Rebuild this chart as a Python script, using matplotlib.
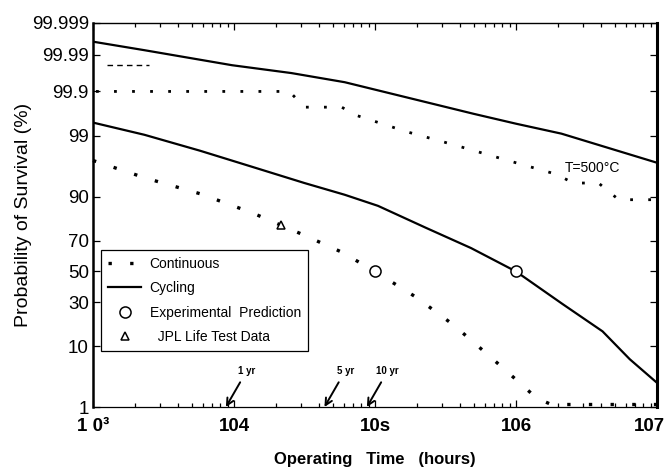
import numpy as np
import matplotlib
matplotlib.use('Agg')
import matplotlib.pyplot as plt
from matplotlib.ticker import FixedLocator, FixedFormatter, LogLocator, NullFormatter, NullLocator
from matplotlib.transforms import ScaledTranslation
from statistics import NormalDist

#-------------------------------------------------------------------------------
# data (time in hours, survival in %)
#-------------------------------------------------------------------------------
# lower solid curve = Cycling
cyc_t = [1000, 2320, 5740, 14600, 31600, 61000, 1.05e5, 2.3e5, 4.8e5, 1.0e6, 2.14e6, 4.11e6, 6.41e6, 1.0e7]
cyc_s = [99.47, 99.05, 98.09, 96.16, 93.55, 90.6, 87.0, 77.3, 65.6, 50.0, 28.8, 15.2, 6.6, 2.8]

# lower dotted curve = Continuous
cont_t = [1000, 2400, 5740, 13450, 31100, 58100, 1.0e5, 1.96e5, 3.61e5, 6.76e5, 1.14e6, 1.39e6, 1.78e6, 1.0e7]
cont_s = [97.16, 94.5, 90.9, 84.3, 73.5, 63.0, 50.0, 32.9, 17.9, 6.8, 2.4, 1.5, 1.12, 1.12]

# upper solid curve (T=500C cycling)
cyc500_t = [1000, 2320, 9700, 25500, 61000, 5.0e5, 1.0e6, 2.1e6, 1.0e7]
cyc500_s = [99.996, 99.9927, 99.980, 99.967, 99.942, 99.66, 99.44, 99.10, 96.9]

# upper dotted curve (T=500C continuous), stepped as printed
cont500_t = [1050, 24700, 31600, 58100, 72000, 1.67e5, 3.61e5, 8.28e5, 1.93e6,
             2.55e6, 3.85e6, 4.47e6, 5.36e6, 9.2e6]
cont500_s = [99.9, 99.9, 99.76, 99.76, 99.64, 99.18, 98.52, 97.27, 95.24,
             93.55, 93.55, 91.7, 89.1, 89.1]

# short dashed fragment near the top left
dash_t = [1265, 2480]
dash_s = [99.98, 99.98]

# experimental predictions (circles) and JPL life test data (triangle)
exp_t = [1.0e5, 1.0e6]
exp_s = [50.0, 50.0]
jpl_t = [21700]
jpl_s = [78.8]

# year markers on the time axis
year_hours = [8760, 43800, 87600]
year_labels = ['1 yr', '5 yr', '10 yr']

x_ticks = [1e3, 1e4, 1e5, 1e6, 1e7]
x_labels = ['1 0\u00b3', '104', '10s', '106', '107']
y_ticks = [1, 10, 30, 50, 70, 90, 99, 99.9, 99.99, 99.999]
y_labels = ['1', '10', '30', '50', '70', '90', '99', '99.9', '99.99', '99.999']

#-------------------------------------------------------------------------------
# normal probability scale for the y axis
#-------------------------------------------------------------------------------
_nd = NormalDist()

def _ppf_one(p):
    if not (0 < p < 1):
        return np.nan
    return _nd.inv_cdf(p)

_ppf = np.vectorize(_ppf_one, otypes=[float])
_cdf = np.vectorize(_nd.cdf, otypes=[float])

def prob_fwd(s):
    s = np.clip(np.asarray(s, dtype=float) / 100.0, 1e-9, 1 - 1e-9)
    return _ppf(s)

def prob_inv(z):
    return _cdf(np.asarray(z, dtype=float)) * 100.0

#-------------------------------------------------------------------------------
plt.rcParams['font.family'] = ['Liberation Sans', 'DejaVu Sans']

fig = plt.figure(figsize=(6.69, 4.75), dpi=100)
ax = fig.add_axes([93/669, 1 - 407/475, 564/669, 384/475])

ax.set_xscale('log')
ax.set_yscale('function', functions=(prob_fwd, prob_inv))
ax.set_xlim(1e3, 1e7)
ax.set_ylim(1, 99.999)

dots = (0, (1, 5.5))
ax.plot(cyc500_t, cyc500_s, color='black', lw=1.6)
ax.plot(cont500_t, cont500_s, color='black', lw=2, linestyle=dots)
ax.plot(dash_t, dash_s, color='black', lw=1, linestyle=(0, (4, 3)))
l_cont, = ax.plot(cont_t, cont_s, color='black', lw=2.4, linestyle=dots, clip_on=False, label='Continuous')
l_cyc, = ax.plot(cyc_t, cyc_s, color='black', lw=1.6, label='Cycling')
l_exp, = ax.plot(exp_t, exp_s, linestyle='none', marker='o', ms=8, mfc='white', mec='black', mew=1.1,
                 label='Experimental  Prediction')
l_jpl, = ax.plot(jpl_t, jpl_s, linestyle='none', marker='^', ms=6, mfc='white', mec='black', mew=1.1,
                 label='  JPL Life Test Data')

ax.text(2.2e6, 96.16, 'T=500\u00b0C', fontsize=10, ha='left', va='center')

for t, lab in zip(year_hours, year_labels):
    ax.annotate(lab, xy=(t, 1), xytext=(15, 26), textcoords='offset points',
                ha='center', va='center', fontsize=7, fontweight='bold',
                arrowprops=dict(arrowstyle='->, head_length=0.7, head_width=0.35', lw=1.4,
                                color='black', shrinkA=3, shrinkB=0))

# ticks
ax.xaxis.set_major_locator(FixedLocator(x_ticks))
ax.xaxis.set_major_formatter(FixedFormatter(x_labels))
ax.xaxis.set_minor_locator(LogLocator(base=10, subs=np.arange(2, 10)))
ax.xaxis.set_minor_formatter(NullFormatter())
ax.yaxis.set_major_locator(FixedLocator(y_ticks))
ax.yaxis.set_major_formatter(FixedFormatter(y_labels))
ax.yaxis.set_minor_locator(NullLocator())

ax.tick_params(which='both', direction='in', top=True, right=True, width=0.9)
ax.tick_params(axis='x', which='major', length=5, pad=8)
ax.tick_params(axis='x', which='minor', length=3)
ax.tick_params(axis='y', which='major', length=5, pad=3, labelsize=13.5)
for lab in ax.get_xticklabels():
    lab.set_fontweight('bold')
    lab.set_fontsize(13.5)
# last label sits a little left of the axis end, as in the scan
last = ax.get_xticklabels()[-1]
last.set_transform(last.get_transform() + ScaledTranslation(-8/100, 0, fig.dpi_scale_trans))

ax.spines['left'].set_linewidth(1.8)
ax.spines['right'].set_linewidth(2.2)
ax.spines['bottom'].set_linewidth(0.9)
ax.spines['top'].set_linewidth(1.0)

ax.set_ylabel('Probability of Survival (%)', fontsize=14, labelpad=0)
ax.set_xlabel('Operating   Time   (hours)', fontsize=12, fontweight='bold', labelpad=12)

leg = ax.legend(handles=[l_cont, l_cyc, l_exp, l_jpl], loc='upper left',
                bbox_to_anchor=(0.014, 0.409), borderaxespad=0, fancybox=False,
                edgecolor='black', framealpha=1, fontsize=10, handlelength=2.4,
                handletextpad=0.6, labelspacing=0.75, borderpad=0.5)
leg.get_frame().set_linewidth(0.9)

plt.savefig('out.png', dpi=100)
